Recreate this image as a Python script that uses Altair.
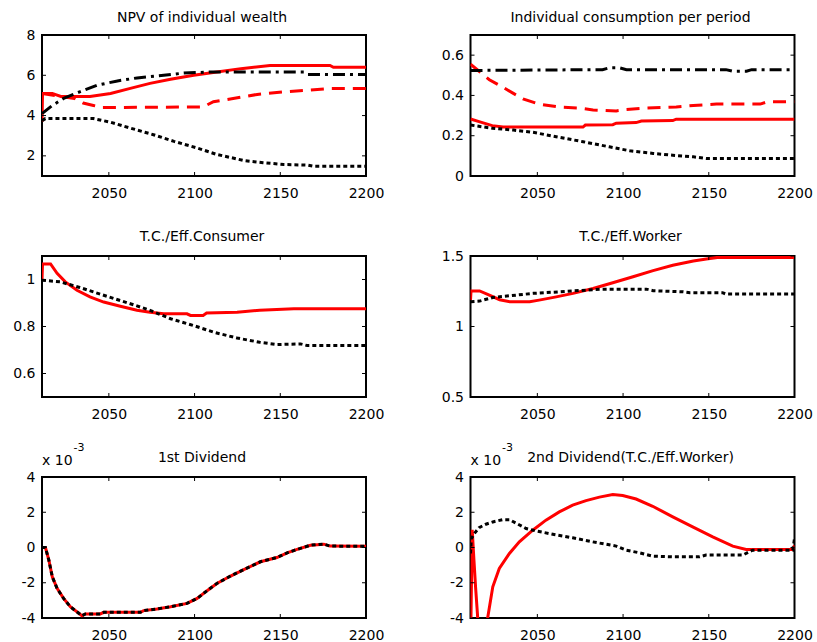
import altair as alt
import pandas as pd

FONT = "DejaVu Sans"
RED = "#ff0000"
BLACK = "#000000"
W, H = 324, 141          # plot area of every panel
TICK = 4                 # inward tick length

YEAR_DOMAIN = [2011, 2200]
X_LABELS = [2050, 2100, 2150, 2200]

# ---- NPV of individual wealth ----
npv_solid_years = [2011, 2011.3, 2017, 2022, 2039, 2051, 2062.5, 2074, 2086, 2099.5, 2113, 2127, 2144, 2179, 2181, 2200]
npv_solid = [3.7, 5.1, 5.1, 4.95, 4.95, 5.1, 5.35, 5.6, 5.8, 6.0, 6.16, 6.33, 6.49, 6.49, 6.4, 6.4]
npv_dashed_years = [2011, 2022, 2030, 2035, 2041, 2046, 2105, 2111, 2125, 2136.5, 2152, 2166, 2179, 2200]
npv_dashed = [5.1, 4.95, 4.85, 4.62, 4.5, 4.4, 4.43, 4.69, 4.88, 5.05, 5.18, 5.26, 5.34, 5.34]
npv_dashdot_years = [2011, 2017, 2023.6, 2033, 2043, 2055, 2066.5, 2082, 2093.7, 2109, 2164, 2166, 2200]
npv_dashdot = [4.1, 4.5, 4.85, 5.18, 5.5, 5.72, 5.87, 6.0, 6.11, 6.16, 6.16, 6.04, 6.04]
npv_dotted_years = [2011, 2013, 2041, 2051, 2062.5, 2076, 2088, 2101.5, 2113, 2128.7, 2140, 2152, 2166, 2169.6, 2200]
npv_dotted = [3.75, 3.85, 3.85, 3.67, 3.38, 3.05, 2.72, 2.39, 2.07, 1.77, 1.66, 1.57, 1.54, 1.48, 1.48]

# ---- Individual consumption per period ----
cons_dashdot_years = [2011, 2088, 2092, 2098, 2102, 2160, 2164, 2172, 2175, 2200]
cons_dashdot = [0.524, 0.528, 0.537, 0.537, 0.528, 0.528, 0.52, 0.52, 0.528, 0.528]
cons_dashed_years = [2011, 2016, 2022, 2030, 2036, 2041.6, 2051, 2063, 2074.7, 2082.5, 2096, 2102, 2113.6, 2131, 2141, 2154.5, 2180, 2184, 2200]
cons_dashed = [0.555, 0.52, 0.478, 0.44, 0.41, 0.383, 0.357, 0.342, 0.337, 0.328, 0.323, 0.33, 0.337, 0.343, 0.35, 0.357, 0.357, 0.368, 0.368]
cons_solid_years = [2011, 2016, 2023.7, 2030, 2076.6, 2078, 2094, 2096, 2107.6, 2110.7, 2129, 2131, 2200]
cons_solid = [0.283, 0.27, 0.25, 0.243, 0.243, 0.253, 0.255, 0.262, 0.265, 0.273, 0.275, 0.282, 0.282]
cons_dotted_years = [2011, 2023.7, 2036, 2047.5, 2061, 2076.7, 2092, 2104, 2117.5, 2129, 2141, 2148.6, 2200]
cons_dotted = [0.253, 0.237, 0.228, 0.217, 0.195, 0.17, 0.145, 0.125, 0.112, 0.103, 0.095, 0.087, 0.087]

# ---- T.C./Eff.Consumer ----
tcc_solid_years = [2011, 2011.3, 2016, 2019.8, 2024.6, 2031.4, 2039, 2047, 2056.7, 2066.4, 2074, 2082, 2095.6, 2097.6, 2105, 2107, 2124.8, 2138, 2157.9, 2200]
tcc_solid = [1.0, 1.066, 1.066, 1.026, 0.99, 0.954, 0.926, 0.904, 0.886, 0.869, 0.861, 0.854, 0.854, 0.847, 0.847, 0.857, 0.861, 0.869, 0.876, 0.876]
tcc_dotted_years = [2011, 2021.7, 2033, 2047, 2062.5, 2074, 2086, 2099.5, 2111, 2124.8, 2138, 2148, 2161.8, 2165.7, 2200]
tcc_dotted = [0.997, 0.99, 0.966, 0.933, 0.897, 0.869, 0.833, 0.804, 0.776, 0.751, 0.733, 0.723, 0.726, 0.719, 0.719]

# ---- T.C./Eff.Worker ----
tcw_solid_years = [2011, 2011.3, 2016.3, 2022, 2028, 2034, 2045.5, 2051, 2061, 2070.8, 2082.5, 2094, 2105.8, 2117.5, 2129, 2141, 2148.6, 2155, 2200]
tcw_solid = [1.187, 1.252, 1.252, 1.223, 1.19, 1.175, 1.175, 1.187, 1.21, 1.235, 1.27, 1.31, 1.353, 1.396, 1.434, 1.464, 1.479, 1.49, 1.49]
tcw_dotted_years = [2011, 2016.3, 2024, 2034, 2047.5, 2063, 2078.6, 2088, 2113.6, 2117.5, 2135, 2139, 2158, 2160, 2200]
tcw_dotted = [1.175, 1.18, 1.206, 1.218, 1.235, 1.246, 1.258, 1.265, 1.265, 1.254, 1.246, 1.24, 1.24, 1.23, 1.23]

# ---- 1st Dividend (units of 1e-3) ----
div1_years = [2011, 2013, 2015, 2017, 2019.8, 2023.6, 2027.5, 2034.3, 2036.3, 2045, 2047, 2068.4, 2070.3, 2078, 2086, 2095.6,
              2101.5, 2107.3, 2113, 2121, 2128.7, 2138.4, 2148, 2154, 2159.8, 2167.6, 2175.4, 2179, 2200]
div1 = [0, 0, -0.72, -1.66, -2.32, -2.89, -3.36, -3.87, -3.77, -3.77, -3.68, -3.68, -3.58, -3.49, -3.36, -3.17,
        -2.89, -2.45, -2.04, -1.62, -1.25, -0.81, -0.57, -0.3, -0.11, 0.13, 0.19, 0.08, 0.07]

# ---- 2nd Dividend (T.C./Eff.Worker) (units of 1e-3) ----
div2_solid_years = [2011, 2012, 2013, 2014, 2015, 2016, 2017, 2018, 2019, 2020, 2021, 2024, 2027.8, 2033.7, 2039.5, 2047.3,
                    2055, 2062.8, 2070.6, 2078.4, 2086.2, 2094, 2099.8, 2107.6, 2117.3, 2129, 2140.6, 2152.3, 2164, 2171.8, 2199, 2200]
div2_solid = [-6.0, 1.0, -0.7, -2.3, -3.7, -5.2, -6.0, -6.2, -5.8, -5.0, -4.0, -2.23, -1.19, -0.34, 0.32, 0.98,
              1.55, 2.02, 2.4, 2.66, 2.86, 3.0, 2.95, 2.75, 2.34, 1.74, 1.17, 0.6, 0.08, -0.11, -0.11, 0.13]
div2_dotted_years = [2011, 2011.5, 2013.3, 2016, 2020, 2024, 2029.8, 2033.7, 2037.6, 2043.4, 2049.2, 2059, 2070.6, 2082.3,
                     2096, 2101.7, 2109.5, 2117.3, 2129, 2144.5, 2148.4, 2169.8, 2175.6, 2199, 2200]
div2_dotted = [-0.34, 0.5, 0.8, 1.13, 1.32, 1.45, 1.58, 1.58, 1.38, 1.08, 0.94, 0.75, 0.55, 0.32,
               0.08, -0.15, -0.3, -0.49, -0.53, -0.53, -0.43, -0.43, -0.15, -0.15, 0.5]

EXPONENT = ["x 10", "-3"]

LINE_STYLES = {
    "solid": {"color": RED, "strokeWidth": 3},
    "dashed": {"color": RED, "strokeWidth": 3, "strokeDash": [13, 8]},
    "dashdot": {"color": BLACK, "strokeWidth": 3, "strokeDash": [12, 5, 3, 5]},
    "dotted": {"color": BLACK, "strokeWidth": 3, "strokeDash": [4, 3]},
}

# plain number text: no thousands separator, no trailing zeros, ASCII minus
PLAIN_LABEL = "'' + datum.value"


def panel(title, y_domain, y_labels, series, title_y=-14, exponent=False):
    xs = alt.Scale(domain=YEAR_DOMAIN, nice=False, zero=False)
    ys = alt.Scale(domain=y_domain, nice=False, zero=False)
    x_axis = alt.Axis(values=X_LABELS, ticks=False, tickSize=0, domain=False, grid=False,
                      labelPadding=10, labelFlush=False, labelOverlap=False, title=None,
                      labelExpr=PLAIN_LABEL)
    y_axis = alt.Axis(values=y_labels, ticks=False, tickSize=0, domain=False, grid=False,
                      labelPadding=7, labelFlush=False, labelOverlap=False, title=None,
                      labelExpr=PLAIN_LABEL)
    xenc = alt.X("year:Q", scale=xs, axis=x_axis)
    yenc = alt.Y("value:Q", scale=ys, axis=y_axis)

    layers = []
    for yrs, vals, style in series:
        df = pd.DataFrame({"year": yrs, "value": vals})
        layers.append(
            alt.Chart(df).mark_line(clip=True, **LINE_STYLES[style]).encode(x=xenc, y=yenc)
        )

    # inward ticks on all four sides of the box
    xt = alt.Chart(pd.DataFrame({"year": X_LABELS})).mark_rule(color=BLACK, strokeWidth=1)
    yt = alt.Chart(pd.DataFrame({"value": y_labels})).mark_rule(color=BLACK, strokeWidth=1)
    layers += [
        xt.encode(x=xenc, y=alt.value(H), y2=alt.value(H - TICK)),
        xt.encode(x=xenc, y=alt.value(0), y2=alt.value(TICK)),
        yt.encode(y=yenc, x=alt.value(0), x2=alt.value(TICK)),
        yt.encode(y=yenc, x=alt.value(W), x2=alt.value(W - TICK)),
    ]

    layers.append(
        alt.Chart(pd.DataFrame({"t": [title]})).mark_text(
            font=FONT, fontSize=14, color=BLACK, align="center", baseline="alphabetic"
        ).encode(text="t:N", x=alt.value(W / 2 - 2), y=alt.value(title_y))
    )

    if exponent:
        layers.append(
            alt.Chart(pd.DataFrame({"t": [EXPONENT[0]]})).mark_text(
                font=FONT, fontSize=14, color=BLACK, align="left", baseline="alphabetic"
            ).encode(text="t:N", x=alt.value(0), y=alt.value(-12.5))
        )
        layers.append(
            alt.Chart(pd.DataFrame({"t": [EXPONENT[1]]})).mark_text(
                font=FONT, fontSize=11, color=BLACK, align="left", baseline="alphabetic"
            ).encode(text="t:N", x=alt.value(31.5), y=alt.value(-26.5))
        )

    return alt.layer(*layers).properties(width=W, height=H)


p1 = panel("NPV of individual wealth", [1, 8], [2, 4, 6, 8], [
    (npv_solid_years, npv_solid, "solid"),
    (npv_dashed_years, npv_dashed, "dashed"),
    (npv_dashdot_years, npv_dashdot, "dashdot"),
    (npv_dotted_years, npv_dotted, "dotted"),
], title_y=-13.5)
p2 = panel("Individual consumption per period", [0, 0.7], [0, 0.2, 0.4, 0.6], [
    (cons_solid_years, cons_solid, "solid"),
    (cons_dashed_years, cons_dashed, "dashed"),
    (cons_dashdot_years, cons_dashdot, "dashdot"),
    (cons_dotted_years, cons_dotted, "dotted"),
], title_y=-13.5)
p3 = panel("T.C./Eff.Consumer", [0.5, 1.1], [0.6, 0.8, 1], [
    (tcc_solid_years, tcc_solid, "solid"),
    (tcc_dotted_years, tcc_dotted, "dotted"),
], title_y=-15)
p4 = panel("T.C./Eff.Worker", [0.5, 1.5], [0.5, 1, 1.5], [
    (tcw_solid_years, tcw_solid, "solid"),
    (tcw_dotted_years, tcw_dotted, "dotted"),
], title_y=-15)
p5 = panel("1st Dividend", [-4, 4], [-4, -2, 0, 2, 4], [
    (div1_years, div1, "solid"),
    (div1_years, div1, "dotted"),
], title_y=-15, exponent=True)
p6 = panel("2nd Dividend(T.C./Eff.Worker)", [-4, 4], [-4, -2, 0, 2, 4], [
    (div2_solid_years, div2_solid, "solid"),
    (div2_dotted_years, div2_dotted, "dotted"),
], title_y=-15, exponent=True)

chart = alt.concat(
    p1, p2, p3, p4, p5, p6,
    columns=2,
    spacing={"row": 80, "column": 104.5},
    bounds="flush",
).properties(
    padding={"left": 11, "top": 9, "right": 0, "bottom": 0},
    background="white",
).configure_view(
    stroke=BLACK, strokeWidth=2
).configure_axis(
    labelFont=FONT, labelFontSize=14, labelColor=BLACK
)

chart.save("out.html", embed_options={"renderer": "svg", "actions": False})
